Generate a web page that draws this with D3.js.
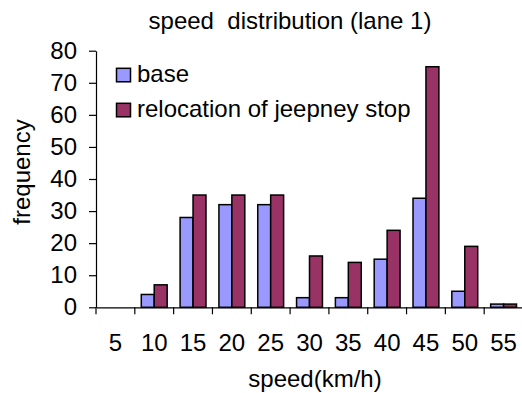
<!DOCTYPE html>
<html><head><meta charset="utf-8">
<script src="https://cdn.jsdelivr.net/npm/d3@7"></script>
<style>
html,body{margin:0;padding:0;background:#fff;}
svg{display:block;font-family:"Liberation Sans",Arial,sans-serif;}
text{white-space:pre;}
</style></head>
<body><svg id="c" width="522" height="393"></svg>
<script>
const categories = ["5","10","15","20","25","30","35","40","45","50","55"];
const seriesNames = ["base","relocation of jeepney stop"];
const baseValues = [0,4,28,32,32,3,3,15,34,5,1];
const relocationValues = [0,7,35,35,35,16,14,24,75,19,1];
const yTicks = [0,10,20,30,40,50,60,70,80];
const colors = ["#9999FF","#993366"];
const title = "speed  distribution (lane 1)";
const xTitle = "speed(km/h)";
const yTitle = "frequency";

const svg = d3.select("#c");
const fs = 24;
const plotLeft = 96, plotRight = 523, plotTop = 50.7, plotBottom = 307.3;

const x = d3.scaleBand().domain(categories).range([plotLeft, plotRight]).paddingInner(0).paddingOuter(0);
const x1 = d3.scaleBand().domain(seriesNames).range([0, x.bandwidth()]).paddingInner(0).paddingOuter(0.5);
const y = d3.scaleLinear().domain([0,80]).range([plotBottom, plotTop]);

const data = categories.map((c,i)=>({cat:c, vals:[baseValues[i], relocationValues[i]]}));

// bars
const g = svg.append("g");
data.forEach(d=>{
  d.vals.forEach((v,j)=>{
    if (v <= 0) return;
    g.append("rect")
      .attr("x", x(d.cat) + x1(seriesNames[j]))
      .attr("y", y(v))
      .attr("width", x1.bandwidth())
      .attr("height", y(0) - y(v))
      .attr("fill", colors[j])
      .attr("stroke", "#000")
      .attr("stroke-width", 1.5);
  });
});

// y axis
const ya = svg.append("g").attr("transform", `translate(${plotLeft},0)`)
  .call(d3.axisLeft(y).tickValues(yTicks).tickSize(7).tickPadding(12).tickSizeOuter(0));
ya.select(".domain").attr("stroke","#000").attr("stroke-width",1.2);
ya.selectAll(".tick line").attr("stroke","#000").attr("stroke-width",1.2);
ya.selectAll(".tick text").attr("font-size", fs).attr("font-family","Liberation Sans, Arial, sans-serif").attr("fill","#000");

// x axis
const xa = svg.append("g").attr("transform", `translate(0,${plotBottom})`)
  .call(d3.axisBottom(x).tickSize(0).tickPadding(0).tickSizeOuter(0));
xa.select(".domain").attr("stroke","#000").attr("stroke-width",1.2);
xa.selectAll(".tick text").attr("font-size", fs).attr("font-family","Liberation Sans, Arial, sans-serif").attr("fill","#000")
  .attr("dy", null).attr("y", 44.2);
// boundary ticks
categories.forEach(c=>{
  svg.append("line").attr("x1", x(c)).attr("x2", x(c))
    .attr("y1", plotBottom).attr("y2", plotBottom+7).attr("stroke","#000").attr("stroke-width",1.2);
});

// titles
svg.append("text").attr("x", 290).attr("y", 29).attr("text-anchor","middle")
  .attr("font-size", fs).text(title);
svg.append("text").attr("x", 315).attr("y", 387).attr("text-anchor","middle")
  .attr("font-size", fs).text(xTitle);
svg.append("text").attr("transform","translate(30,172) rotate(-90)").attr("text-anchor","middle")
  .attr("font-size", fs).text(yTitle);

// legend
const leg = svg.append("g");
seriesNames.forEach((s,i)=>{
  const yy = 68.3 + i*35;
  leg.append("rect").attr("x",116.5).attr("y",yy).attr("width",14).attr("height",13.5)
    .attr("fill",colors[i]).attr("stroke","#000").attr("stroke-width",1.5);
  leg.append("text").attr("x",137).attr("y",yy+14).attr("font-size",fs).text(s);
});
</script>
</body></html>
